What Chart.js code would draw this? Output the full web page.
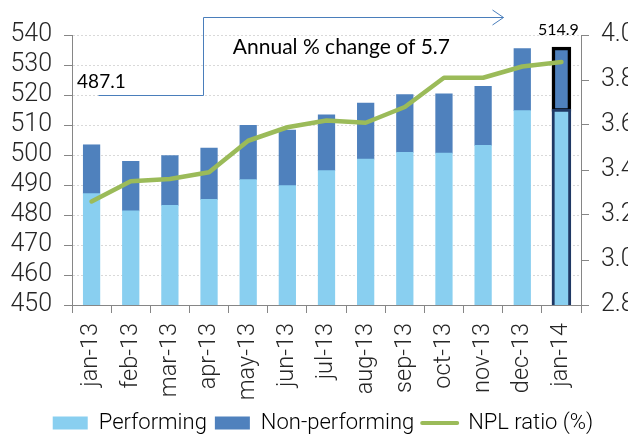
<!DOCTYPE html>
<html>
<head>
<meta charset="utf-8">
<script src="https://cdn.jsdelivr.net/npm/chart.js@4.4.1/dist/chart.umd.min.js"></script>
<style>
  html, body { margin: 0; padding: 0; background: #fff; overflow: hidden; }
  #wrap { width: 628px; height: 440px; overflow: hidden; }
</style>
</head>
<body>
<div id="wrap"><canvas id="canvas" width="646" height="444"></canvas></div>
<script>
// loans, bn, monthly
const months = ["jan-13", "feb-13", "mar-13", "apr-13", "may-13", "jun-13", "jul-13",
  "aug-13", "sep-13", "oct-13", "nov-13", "dec-13", "jan-14"];
const performing = [487.1, 481.4, 483.2, 485.2, 491.8, 489.8, 494.8, 498.6, 500.9, 500.6, 503.2, 514.8, 514.9];
const nonPerforming = [16.3, 16.5, 16.6, 17.1, 18.1, 18.5, 18.6, 18.7, 19.2, 19.8, 19.7, 20.7, 20.7];
const nplRatio = [3.26, 3.35, 3.36, 3.39, 3.53, 3.59, 3.62, 3.61, 3.68, 3.81, 3.81, 3.86, 3.88];
const leftTicks = ["450", "460", "470", "480", "490", "500", "510", "520", "530", "540"];
const rightTicks = ["2.8", "3.0", "3.2", "3.4", "3.6", "3.8", "4.0"];

const last = months.length - 1;
const change = (performing[last] / performing[0] - 1) * 100;

const tickFont = { family: "Roboto", size: 25, weight: 300 };
const gray = "#868686";

// arrow + labels drawn on top of the bars
const notes = {
  id: "notes",
  afterDatasetsDraw(chart) {
    const ctx = chart.ctx;
    const xs = chart.scales.x, ys = chart.scales.y;
    const px = (v) => Math.round(xs.getPixelForValue(v)) + 0.5;
    const py = (v) => Math.round(ys.getPixelForValue(v)) + 0.5;
    ctx.save();
    ctx.strokeStyle = "#4a7ebb";
    ctx.lineWidth = 1;
    const x0 = px(0.16), x1 = px(2.85), x2 = px(10.5);
    const y0 = py(520), y1 = py(546.1);
    ctx.beginPath();
    ctx.moveTo(x0, y0);
    ctx.lineTo(x1, y0);
    ctx.lineTo(x1, y1);
    ctx.lineTo(x2, y1);
    ctx.moveTo(x2 - 11, y1 - 7.5);
    ctx.lineTo(x2, y1);
    ctx.lineTo(x2 - 11, y1 + 7.5);
    ctx.stroke();

    ctx.fillStyle = "#000";
    ctx.textBaseline = "alphabetic";
    ctx.font = "19px Lato";
    ctx.textAlign = "left";
    ctx.fillText(performing[0].toFixed(1), xs.getPixelForValue(-0.37), ys.getPixelForValue(522.3));

    ctx.font = "21px Lato";
    ctx.textAlign = "center";
    ctx.fillText("Annual % change of " + change.toFixed(1), xs.getPixelForValue(6.38), ys.getPixelForValue(533.6));

    ctx.font = "16px Lato";
    ctx.fillText(performing[last].toFixed(1), xs.getPixelForValue(last) - 3,
      ys.getPixelForValue(performing[last] + nonPerforming[last]) - 13);
    ctx.restore();
  }
};

const ctx = document.getElementById("canvas").getContext("2d");
const myChart = new Chart(ctx, {
  type: "bar",
  data: {
    labels: months,
    datasets: [
      {
        label: "Performing",
        data: performing,
        backgroundColor: "#89cff0",
        borderColor: (c) => (c.dataIndex === last ? "#1f3864" : "rgba(0,0,0,0)"),
        borderWidth: (c) => (c.dataIndex === last ? 3 : 0),
        inflateAmount: (c) => (c.dataIndex === last ? 1.5 : 0.33),
        borderSkipped: false,
        barPercentage: 0.424,
        categoryPercentage: 1,
        stack: "loans",
        order: 1,
      },
      {
        label: "Non-performing",
        data: nonPerforming,
        backgroundColor: "#4f81bd",
        borderColor: (c) => (c.dataIndex === last ? "#000" : "rgba(0,0,0,0)"),
        borderWidth: (c) => (c.dataIndex === last ? 3.5 : 0),
        inflateAmount: (c) => (c.dataIndex === last ? 1.5 : 0.33),
        borderSkipped: false,
        barPercentage: 0.424,
        categoryPercentage: 1,
        stack: "loans",
        order: 1,
      },
      {
        type: "line",
        label: "NPL ratio (%)",
        data: nplRatio,
        yAxisID: "y1",
        borderColor: "#9bbb59",
        backgroundColor: "#9bbb59",
        borderWidth: 4.5,
        borderJoinStyle: "round",
        borderCapStyle: "round",
        pointRadius: 0,
        tension: 0,
        order: 0,
      },
    ],
  },
  options: {
    responsive: false,
    animation: false,
    devicePixelRatio: 1,
    layout: { padding: { top: 35, left: 0, right: 0, bottom: 0 } },
    plugins: {
      tooltip: { enabled: false },
      legend: {
        position: "bottom",
        labels: {
          font: { family: "Roboto", size: 22, weight: 300 },
          color: "#262626",
          usePointStyle: true,
          pointStyleWidth: 35,
          boxHeight: 13,
          padding: 8,
          generateLabels: (chart) =>
            chart.data.datasets.map((ds, i) => ({
              text: ds.label,
              fillStyle: ds.backgroundColor,
              strokeStyle: ds.type === "line" ? ds.borderColor : ds.backgroundColor,
              lineWidth: ds.type === "line" ? 4 : 0,
              lineCap: "round",
              pointStyle: ds.type === "line" ? "line" : "rect",
              datasetIndex: i,
              hidden: false,
            })),
        },
      },
    },
    scales: {
      x: {
        stacked: true,
        offset: true,
        grid: { offset: true, drawOnChartArea: false, color: gray, tickLength: 8 },
        border: { color: gray },
        ticks: { font: { family: "Roboto", size: 23.5, weight: 300 }, color: "#262626",
          minRotation: 90, maxRotation: 90, autoSkip: false, padding: 10 },
        afterFit: (s) => { s.height = 99; },
      },
      y: {
        stacked: true,
        min: 450,
        max: 540,
        grid: { color: "#d9d9d9", tickColor: gray, tickLength: 8 },
        border: { color: gray, dash: [2, 2] },
        ticks: { stepSize: 10, autoSkip: false, font: tickFont, color: "#262626", padding: 12,
          callback: (v, i) => leftTicks[i] },
        afterFit: (s) => { s.width = 72; },
      },
      y1: {
        position: "right",
        min: 2.8,
        max: 4.0,
        grid: { drawOnChartArea: false, color: gray, tickLength: 8 },
        border: { color: gray },
        ticks: { stepSize: 0.2, autoSkip: false, font: tickFont, color: "#262626", padding: 12,
          callback: (v, i) => rightTicks[i] },
        afterFit: (s) => { s.width = 65; },
      },
    },
  },
  plugins: [notes],
});
</script>
</body>
</html>
